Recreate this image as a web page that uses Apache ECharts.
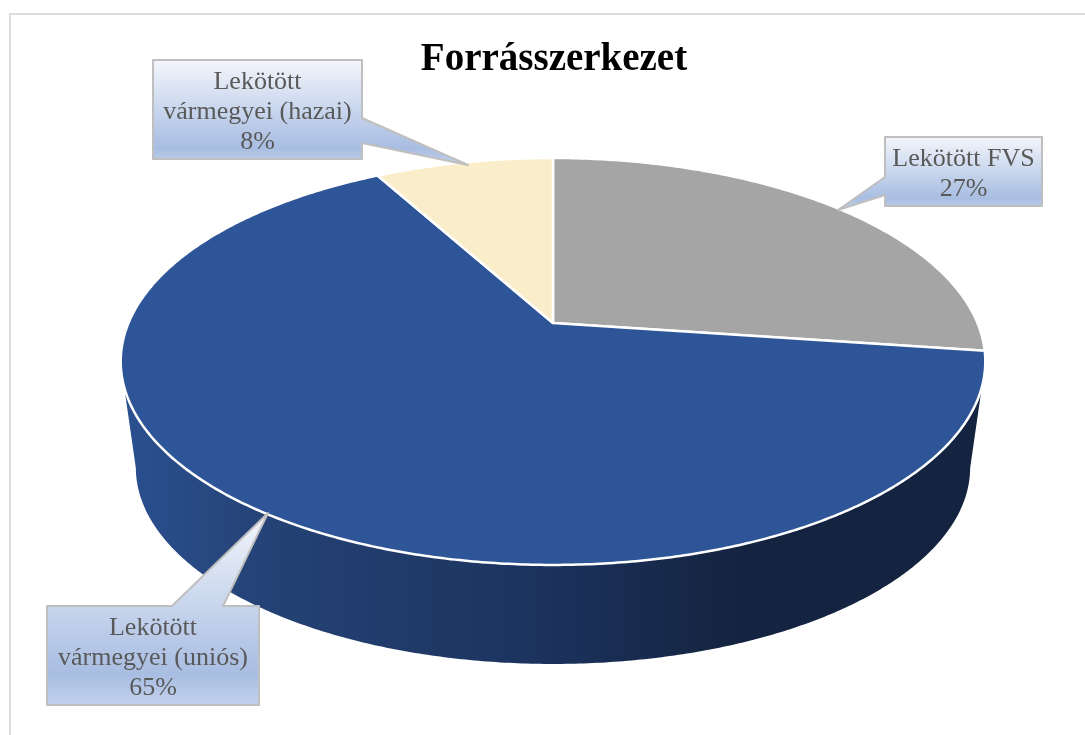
<!DOCTYPE html>
<html>
<head>
<meta charset="utf-8">
<style>
html, body { margin: 0; padding: 0; background: #fff; }
#main { width: 1085px; height: 735px; }
</style>
<script src="https://cdn.jsdelivr.net/npm/echarts@6/dist/echarts.min.js"></script>
</head>
<body>
<div id="main"></div>
<script>
// adatok
var titleText = 'Forrásszerkezet';
var categories = ['Lekötött FVS', 'Lekötött\nvármegyei (uniós)', 'Lekötött\nvármegyei (hazai)'];
var shares = [27.2, 64.8, 8];

var sliceColors = ['#a5a5a5', '#2e5597', '#faeeca'];
var fontName = '"Liberation Serif"';

// perspective of the tilted disc, fitted on the picture
var disc = { x: 553, y: 323, a: 424.5, b: 196.2, k: -0.189, depthY: 107.5, scale: 0.965 };

// callouts: box and pointer, same order as categories
var callouts = [
    { x: 885, y: 137, w: 157, h: 69, shape: [[885, 137], [1042, 137], [1042, 206], [885, 206], [885, 195], [838, 210], [885, 177]] },
    { x: 47, y: 606, w: 212, h: 99, shape: [[47, 606], [172, 606], [268, 513], [223, 606], [259, 606], [259, 705], [47, 705]] },
    { x: 153, y: 60, w: 209, h: 99, shape: [[153, 60], [362, 60], [362, 118], [468, 165], [362, 143], [362, 159], [153, 159]] }
];

// clockwise angle from the top (degree) -> picture point
function rim(deg, bottom) {
    var t = deg * Math.PI / 180;
    var u = Math.sin(t), v = -Math.cos(t);
    var den = 1 + disc.k * v;
    var s = bottom ? disc.scale : 1;
    return [
        disc.x + s * disc.a * u / den,
        disc.y + (bottom ? disc.depthY : 0) + s * disc.b * v / den
    ];
}

function arc(from, to, bottom) {
    var pts = [];
    var n = Math.max(2, Math.ceil(Math.abs(to - from) * 2));
    for (var i = 0; i <= n; i++) {
        pts.push(rim(from + (to - from) * i / n, bottom));
    }
    return pts;
}

function sliceRange(idx) {
    var total = shares.reduce(function (a, b) { return a + b; }, 0);
    var start = 0;
    for (var i = 0; i < idx; i++) start += shares[i];
    return [start / total * 360, (start + shares[idx]) / total * 360];
}

// side wall, only the front of the disc shows
var sideGradient = new echarts.graphic.LinearGradient(122, 0, 985, 0, [
    { offset: 0, color: '#2b5090' },
    { offset: 0.17, color: '#244275' },
    { offset: 0.48, color: '#1c335e' },
    { offset: 0.72, color: '#14233f' },
    { offset: 1, color: '#14233f' }
], true);

function renderSide(params) {
    var r = sliceRange(params.dataIndex);
    var from = Math.max(r[0], 108), to = Math.min(r[1], 252);
    if (from >= to) return { type: 'group', children: [] };
    var botFrom = r[0] <= 108 ? 101 : from;
    var botTo = r[1] >= 252 ? 259 : to;
    return {
        type: 'polygon',
        silent: true,
        shape: { points: arc(from, to, false).concat(arc(botTo, botFrom, true)) },
        style: { fill: sideGradient }
    };
}

function renderTop(params) {
    var r = sliceRange(params.dataIndex);
    return {
        type: 'polygon',
        silent: true,
        shape: { points: [[disc.x, disc.y]].concat(arc(r[0], r[1], false)) },
        style: { fill: sliceColors[params.dataIndex], stroke: '#fff', lineWidth: 2.5, lineJoin: 'round' }
    };
}

function renderCallout(params) {
    var c = callouts[params.dataIndex];
    var ys = c.shape.map(function (p) { return p[1]; });
    var y0 = Math.min.apply(null, ys), y1 = Math.max.apply(null, ys);
    return {
        type: 'group',
        silent: true,
        children: [{
            type: 'polygon',
            shape: { points: c.shape },
            style: {
                fill: new echarts.graphic.LinearGradient(0, y0, 0, y1, [
                    { offset: 0, color: '#f3f6fb' },
                    { offset: 0.84, color: '#a8bde2' },
                    { offset: 1, color: '#c3d2ec' }
                ], true),
                stroke: '#bfbfbf',
                lineWidth: 2,
                lineJoin: 'round'
            }
        }, {
            type: 'text',
            style: {
                x: c.x + c.w / 2,
                y: c.y + c.h / 2 + 3,
                text: categories[params.dataIndex] + '\n' + Math.round(shares[params.dataIndex]) + '%',
                font: '26px ' + fontName,
                fill: '#595959',
                align: 'center',
                verticalAlign: 'middle',
                lineHeight: 30
            }
        }]
    };
}

var chart = echarts.init(document.getElementById('main'));
var seriesData = shares.map(function (v, i) { return { name: categories[i], value: v }; });

chart.setOption({
    animation: false,
    backgroundColor: '#fff',
    title: {
        text: titleText,
        left: 549,
        top: 35,
        textAlign: 'center',
        textStyle: { fontFamily: fontName, fontSize: 39, fontWeight: 'bold', color: '#000' }
    },
    graphic: [{
        type: 'rect',
        silent: true,
        shape: { x: 10, y: 14, width: 1100, height: 760 },
        style: { fill: 'none', stroke: '#dcdcdc', lineWidth: 2 }
    }],
    series: [
        { type: 'custom', coordinateSystem: 'none', z: 2, renderItem: renderSide, data: seriesData },
        { type: 'custom', coordinateSystem: 'none', z: 3, renderItem: renderTop, data: seriesData },
        { type: 'custom', coordinateSystem: 'none', z: 4, renderItem: renderCallout, data: seriesData }
    ]
});
</script>
</body>
</html>
